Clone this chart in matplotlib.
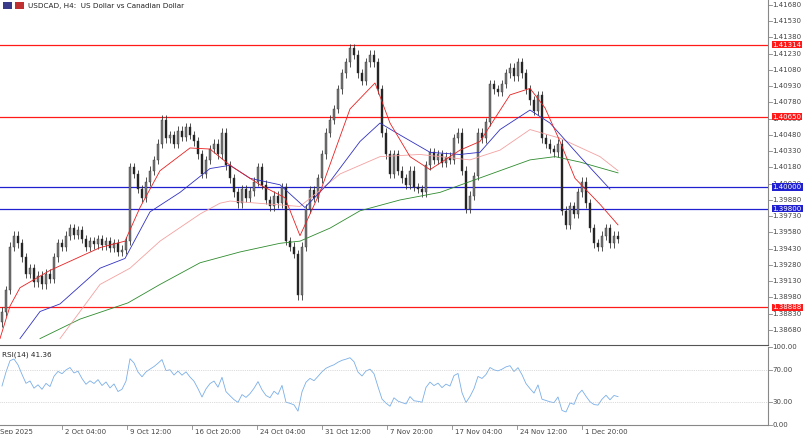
import numpy as np
import matplotlib
matplotlib.use("Agg")
import matplotlib.pyplot as plt
from matplotlib.patches import Rectangle

closes = [1.3885,1.3905,1.3945,1.3955,1.3948,1.3935,1.3920,1.3925,1.3912,1.3918,
1.3910,1.3920,1.3915,1.3935,1.3948,1.3945,1.3955,1.3962,1.3956,1.3960,
1.3952,1.3945,1.3950,1.3947,1.3952,1.3946,1.3950,1.3944,1.3948,1.3940,
1.3942,1.3950,1.4018,1.4012,1.3998,1.3990,1.4005,1.4015,1.4025,1.4040,
1.4062,1.4045,1.4048,1.4040,1.4052,1.4046,1.4055,1.4048,1.4042,1.4030,
1.4012,1.4025,1.4035,1.4040,1.4030,1.4050,1.4020,1.4008,1.3995,1.3985,
1.3998,1.3990,1.3996,1.4005,1.4018,1.4002,1.3988,1.3982,1.3992,1.3985,
1.4000,1.3950,1.3945,1.3938,1.3900,1.3945,1.3980,1.3997,1.3990,1.4008,
1.4030,1.4050,1.4062,1.4072,1.4090,1.4105,1.4115,1.4128,1.4122,1.4105,
1.4098,1.4115,1.4122,1.4115,1.4090,1.4050,1.4030,1.4012,1.4030,1.4015,
1.4008,1.4002,1.4015,1.4000,1.3998,1.3995,1.4020,1.4032,1.4025,1.4030,
1.4022,1.4028,1.4025,1.4045,1.4050,1.4015,1.3980,1.3992,1.4010,1.4050,
1.4045,1.4060,1.4095,1.4090,1.4088,1.4095,1.4105,1.4110,1.4102,1.4115,
1.4105,1.4090,1.4080,1.4070,1.4085,1.4045,1.4040,1.4035,1.4032,1.4040,
1.3978,1.3965,1.3982,1.3975,1.3995,1.4005,1.3985,1.3962,1.3948,1.3945,
1.3955,1.3962,1.3948,1.3955,1.3952]

# moving averages: (bar index, value)
red_x = [-0.5,2,4.5,12,24.5,30.75,34.5,39.5,47,52,57,64.5,70.75,74.5,79.5,87,93.25,97,102,107,114.5,119.5,127,132,135.75,139.5,143.25,149.5,154]
red_y = [1.3860,1.3890,1.3907,1.3923,1.3944,1.3950,1.3981,1.4015,1.4036,1.4035,1.4020,1.4002,1.3990,1.3955,1.3995,1.4072,1.4096,1.4059,1.4028,1.4016,1.4034,1.4042,1.4085,1.4091,1.4073,1.4042,1.4008,1.3984,1.3965]
blue_x = [4.5,9.5,14.5,24.5,30.75,37,44.5,52,57,62,69.5,75.75,82,89.5,94.5,99.5,107,114.5,119.5,124.5,132,137,144.5,152]
blue_y = [1.3860,1.3885,1.3892,1.3925,1.3934,1.3977,1.3995,1.4017,1.4020,1.4008,1.4002,1.3981,1.4005,1.4042,1.4059,1.4048,1.4032,1.4030,1.4032,1.4053,1.4071,1.4059,1.4028,1.3998]
pink_x = [14.5,24.5,32,39.5,49.5,54.5,57,74.5,84.5,94.5,104.5,117,124.5,132,139.5,149.5,154]
pink_y = [1.3860,1.3910,1.3925,1.3950,1.3975,1.3985,1.3987,1.3982,1.4012,1.4028,1.4030,1.4025,1.4034,1.4053,1.4045,1.4028,1.4015]
green_x = [9.5,19.5,31.5,39.5,49.5,59.5,69.5,74.5,82,89.5,99.5,109.5,117,124.5,132,138.25,144.5,154]
green_y = [1.3860,1.3878,1.3893,1.3910,1.3930,1.3940,1.3948,1.3950,1.3962,1.3978,1.3988,1.3995,1.4005,1.4015,1.4025,1.4028,1.4023,1.4013]

levels = [1.41314, 1.40650, 1.40000, 1.39800, 1.38888]
level_colors = ['#ff1a1a', '#ff1a1a', '#2020d0', '#2020d0', '#ff1a1a']
price_ticks = [1.41680,1.41530,1.41380,1.41230,1.41080,1.40930,1.40780,1.40630,1.40480,1.40330,1.40180,1.40030,1.39880,1.39730,1.39580,1.39430,1.39280,1.39130,1.38980,1.38830,1.38680]
date_labels = ['24 Sep 2025','2 Oct 04:00','9 Oct 12:00','16 Oct 20:00','24 Oct 04:00','31 Oct 12:00','7 Nov 20:00','17 Nov 04:00','24 Nov 12:00','1 Dec 20:00']
rsi_ticks = [100, 70, 30, 0]

W, H = 804, 434
FS = 5.0
fig = plt.figure(figsize=(W/100, H/100), dpi=100)
ax = fig.add_axes([0, 1-345/H, 768/W, 345/H])
axr = fig.add_axes([0, 1-425/H, 768/W, 78/H])

c = np.array(closes)
o = np.concatenate([[c[0]-0.0010], c[:-1]])
hi = np.maximum(o, c) + 0.0004
lo = np.minimum(o, c) - 0.0004
idx = np.arange(len(c))

for lv, col in zip(levels, level_colors):
    ax.plot([-0.5, 191.5], [lv, lv], color=col, lw=0.9, zorder=1)

ax.vlines(idx, lo, hi, color='#333333', lw=0.6, zorder=3)
for i in idx:
    b0, b1 = min(o[i], c[i]), max(o[i], c[i])
    ax.add_patch(Rectangle((i-0.22, b0), 0.44, max(b1-b0, 0.00005), zorder=3,
                           facecolor='#222222' if c[i] < o[i] else '#777777', edgecolor='#333333', lw=0.3))

ax.plot(green_x, green_y, color='#2e8b2e', lw=0.6, zorder=4)
ax.plot(pink_x, pink_y, color='#f4a0a0', lw=0.6, zorder=4)
ax.plot(blue_x, blue_y, color='#3030c0', lw=0.6, zorder=4)
ax.plot(red_x, red_y, color='#e82020', lw=0.6, zorder=4)

ymin, ymax = 1.38541, 1.41726
xmax = 191.5
ax.set_xlim(-0.5, xmax)
ax.set_ylim(ymin, ymax)
ax.set_xticks([]); ax.set_yticks([])
for s in ['top', 'left']:
    ax.spines[s].set_visible(False)
ax.spines['right'].set_color('#888888'); ax.spines['bottom'].set_color('#555555')

for t in price_ticks:
    ax.plot([1.0, 1.005], [t, t], transform=ax.get_yaxis_transform(), color='#888888', lw=0.6, clip_on=False)
    ax.text(1.006, t, '%.5f' % t, transform=ax.get_yaxis_transform(), fontsize=FS, color='#444444', va='center', ha='left')
for lv, col in zip(levels, level_colors):
    ax.text(1.006, lv, '%.5f' % lv, transform=ax.get_yaxis_transform(), fontsize=FS, color='white', va='center', ha='left',
            bbox=dict(boxstyle='square,pad=0.12', fc=col, ec='none'))

ax.add_patch(Rectangle((3/768, 0.975), 0.012, 0.018, transform=ax.transAxes, fc='#3a3a8a', ec='none'))
ax.add_patch(Rectangle((15/768, 0.975), 0.012, 0.018, transform=ax.transAxes, fc='#c03030', ec='none'))
ax.text(28/768, 0.984, 'USDCAD, H4:  US Dollar vs Canadian Dollar', transform=ax.transAxes, fontsize=5.2, va='center', color='#222222')

# RSI derived from closes
d = np.diff(c, prepend=c[0])
up = np.where(d > 0, d, 0.0); dn = np.where(d < 0, -d, 0.0)
n = 7
ag = np.zeros_like(c); al = np.zeros_like(c)
ag[0] = 0.0003; al[0] = 0.0003
for i in range(1, len(c)):
    ag[i] = (ag[i-1]*(n-1) + up[i]) / n
    al[i] = (al[i-1]*(n-1) + dn[i]) / n
rsi = 100 - 100/(1 + ag/np.maximum(al, 1e-9))
axr.plot(idx, rsi, color='#7aaee8', lw=0.6)
axr.set_xlim(-0.5, xmax); axr.set_ylim(0, 100)
for lvl in (70, 30):
    axr.axhline(lvl, color='#bbbbbb', lw=0.5, ls=':')
axr.set_xticks([]); axr.set_yticks([])
for s in ['top', 'left']:
    axr.spines[s].set_visible(False)
axr.spines['right'].set_color('#888888'); axr.spines['bottom'].set_color('#888888')
for t in rsi_ticks:
    axr.plot([1.0, 1.005], [t, t], transform=axr.get_yaxis_transform(), color='#888888', lw=0.6, clip_on=False)
    axr.text(1.006, t, '%.2f' % t, transform=axr.get_yaxis_transform(), fontsize=FS, color='#444444', va='center', ha='left')
axr.text(0.002, 0.9, 'RSI(14) 41.36', transform=axr.transAxes, fontsize=5.2, color='#222222', va='center')

for k, lab in enumerate(date_labels):
    xi = 15 + 16.25*(k-1)
    axr.plot([xi, xi], [0, -5], color='#888888', lw=0.6, clip_on=False)
    axr.text(xi + 0.8 if k else xi - 2.0, -9, lab, fontsize=FS, color='#444444', va='center', ha='left', clip_on=False)

fig.savefig('out.png', dpi=100)
